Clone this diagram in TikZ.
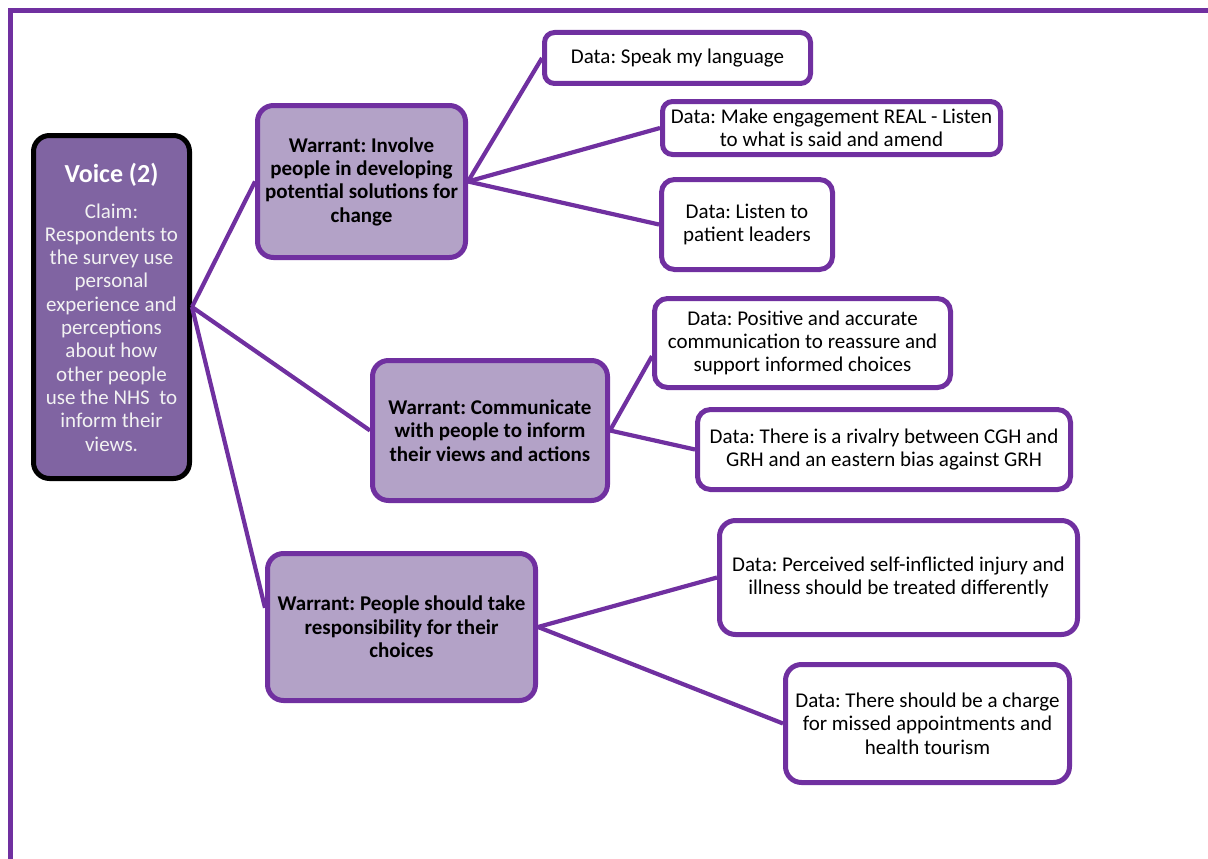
\documentclass[tikz,border=0pt]{standalone}
\usepackage{fontspec}
\setmainfont{Carlito}
\frenchspacing
\definecolor{linkpurple}{HTML}{7030A0}
\definecolor{claimfill}{HTML}{8064A2}
\definecolor{warrantfill}{HTML}{B3A2C7}
\definecolor{claimtext}{HTML}{F2F2F2}
\tikzset{
  basebox/.style={rectangle, line width=5pt, inner sep=0pt, align=center,
    font=\fontsize{21}{23.3}\selectfont},
  claimbox/.style={basebox, draw=black, fill=claimfill, text=claimtext, rounded corners=16pt},
  warrantbox/.style={basebox, draw=linkpurple, fill=warrantfill, text=black,
    font=\fontsize{21}{23.3}\selectfont\bfseries, rounded corners=16pt},
  databox/.style={basebox, draw=linkpurple, fill=white, text=black, rounded corners=13pt},
  link/.style={draw=linkpurple, line width=4.2pt},
  framestyle/.style={draw=linkpurple, line width=5pt}
}
\begin{document}
\begin{tikzpicture}[x=1pt,y=-1pt]
\useasboundingbox (0,0) rectangle (1208,859);

% outer frame, open at the right and bottom
\coordinate (fbl) at (10,862);
\coordinate (ftl) at (10,10.5);
\coordinate (ftr) at (1211,10.5);
\draw[framestyle] (fbl) -- (ftl) -- (ftr);

% claim
\node[claimbox, minimum width=156pt, minimum height=343pt] (claim) at (111.5,307)
  {{\fontsize{26}{23.3}\selectfont\bfseries\color{white} Voice (2)}\\[12.7pt]
   Claim:\\ Respondents to\\ the survey use\\ personal\\ experience and\\ perceptions\\
   about how\\ other people\\ use the NHS\ \ to\\ inform their\\ views.};

% warrants
\node[warrantbox, minimum width=208pt, minimum height=152pt] (w1) at (361.5,181.5)
  {Warrant: Involve\\ people in developing\\ potential solutions for\\ change};
\node[warrantbox, minimum width=235pt, minimum height=140pt] (w2) at (490,430.5)
  {Warrant: Communicate\\ with people to inform\\ their views and actions};
\node[warrantbox, minimum width=268pt, minimum height=147pt] (w3) at (401.5,627)
  {Warrant: People should take\\ responsibility for their\\ choices};

% data
\node[databox, rounded corners=10pt, minimum width=266pt, minimum height=51pt] (d1) at (677.5,58)
  {Data: Speak my language};
\node[databox, rounded corners=10pt, minimum width=338pt, minimum height=53pt] (d2) at (831.5,128)
  {Data: Make engagement REAL - Listen\\ to what is said and amend};
\node[databox, minimum width=171pt, minimum height=90pt] (d3) at (747,224.5)
  {Data: Listen to\\ patient leaders};
\node[databox, minimum width=296pt, minimum height=89pt] (d4) at (802.5,343)
  {Data: Positive and accurate\\ communication to reassure and\\ support informed choices};
\node[databox, minimum width=373pt, minimum height=80pt] (d5) at (884,449.5)
  {Data: There is a rivalry between CGH and\\ GRH and an eastern bias against GRH};
\node[databox, rounded corners=16pt, minimum width=358pt, minimum height=114pt] (d6) at (898.5,577.5)
  {Data: Perceived self-inflicted injury and\\ illness should be treated differently};
\node[databox, rounded corners=16pt, minimum width=284pt, minimum height=118pt] (d7) at (927.5,723.5)
  {Data: There should be a charge\\ for missed appointments and\\ health tourism};

% connectors
\draw[link] (claim.east) -- (w1.west);
\draw[link] (claim.east) -- (w2.west);
\draw[link] (claim.east) -- (w3.172);
\draw[link] (w1.east) -- (d1.west);
\draw[link] (w1.east) -- (d2.west);
\draw[link] (w1.east) -- (d3.west);
\draw[link] (w2.east) -- (d4.185);
\draw[link] (w2.east) -- (d5.west);
\draw[link] (w3.east) -- (d6.west);
\draw[link] (w3.east) -- (d7.west);
\end{tikzpicture}
\end{document}
